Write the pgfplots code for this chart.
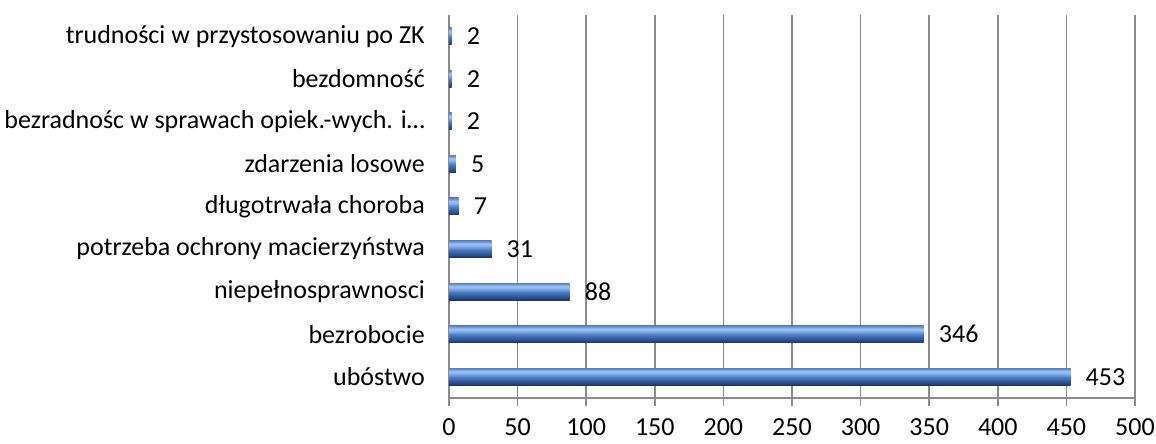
\documentclass[border=0pt]{standalone}
\usepackage{pgfplots}
\pgfplotsset{compat=1.18}
\usepackage{fontspec}
\setmainfont{Carlito}
\definecolor{gridgray}{HTML}{8C8C8C}
\definecolor{bA}{HTML}{1E3660}
\definecolor{bB}{HTML}{2E5490}
\definecolor{bC}{HTML}{4A7AC2}
\definecolor{bD}{HTML}{8AB5EC}
\definecolor{bE}{HTML}{9CC2F2}
\definecolor{bF}{HTML}{6E9CDC}
\definecolor{bG}{HTML}{5585C8}
\pgfdeclareverticalshading{cyl}{100bp}{color(0bp)=(bA); color(25bp)=(bA); color(35bp)=(bB); color(48bp)=(bC); color(60bp)=(bD); color(66bp)=(bE); color(71bp)=(bF); color(75bp)=(bG); color(100bp)=(bG)}
\begin{document}
\begin{tikzpicture}
\begin{axis}[
  scale only axis, width=686pt, height=383pt,
  xmin=0, xmax=500, ymin=-0.5, ymax=8.5,
  xtick={0,50,...,500},
  ytick={0,...,8},
  yticklabels={ubóstwo, bezrobocie, niepełnosprawnosci, potrzeba ochrony macierzyństwa, długotrwała choroba, zdarzenia losowe, {bezradnośc w sprawach opiek.-wych. i…}, bezdomność, trudności w przystosowaniu po ZK},
  axis x line*=bottom, axis y line*=left,
  axis line style={gridgray, line width=1.5pt, -},
  xmajorgrids, grid style={gridgray, line width=1.5pt},
  tick align=outside, major tick length=8pt,
  tick style={gridgray, line width=1.5pt},
  y tick style={draw=none},
  extra y ticks={-0.5,0.5,...,8.5}, extra y tick labels={},
  extra y tick style={tick style={draw=gridgray, line width=1.5pt}},
  /pgf/number format/assume math mode=true,
  ticklabel style={font=\fontsize{26}{31}\selectfont, text=black},
  yticklabel style={inner sep=0pt, xshift=-16pt},
  xticklabel style={inner sep=0pt, yshift=-12pt},
  xbar, bar width=17pt, bar shift=0pt,
  nodes near coords,
  nodes near coords style={font=\fontsize{26}{31}\selectfont, text=black, anchor=west, inner sep=0pt, xshift=15pt},
  every axis plot/.append style={draw=none, shading=cyl},
]
\addplot coordinates {(453,0)};
\addplot coordinates {(346,1)};
\addplot coordinates {(88,2)};
\addplot coordinates {(31,3)};
\addplot coordinates {(7,4)};
\addplot coordinates {(5,5)};
\addplot coordinates {(2,6)};
\addplot coordinates {(2,7)};
\addplot coordinates {(2,8)};
\end{axis}
\pgfresetboundingbox
\path (-449pt,-46pt) rectangle (707pt,398pt);
\end{tikzpicture}
\end{document}
